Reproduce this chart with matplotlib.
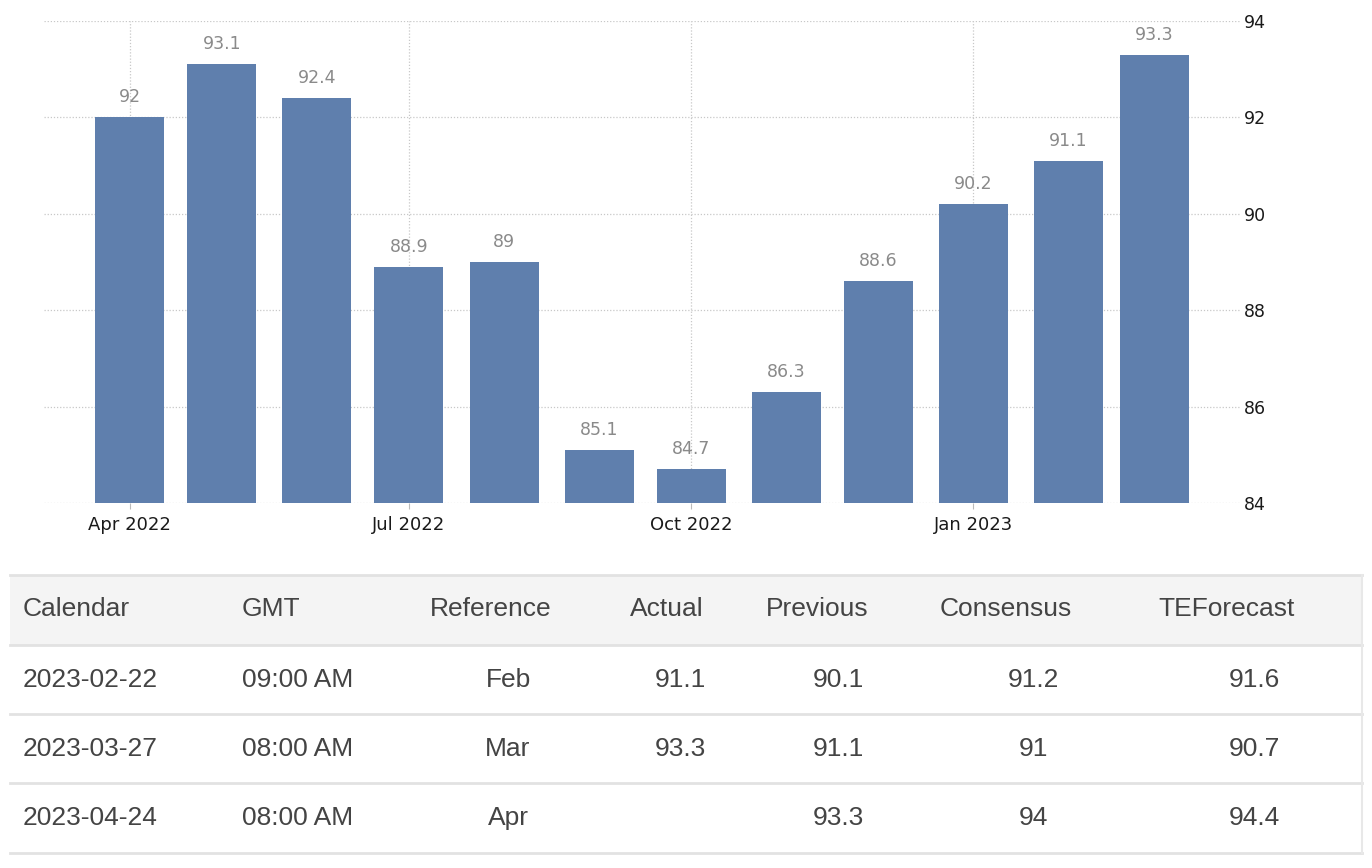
import matplotlib
matplotlib.use("Agg")
import matplotlib.pyplot as plt
import matplotlib.dates as mdates
import numpy as np
import pandas as pd

# ---- chart data -------------------------------------------------------------
months = pd.date_range("2022-04-01", "2023-03-01", freq="MS")
values = [92, 93.1, 92.4, 88.9, 89, 85.1, 84.7, 86.3, 88.6, 90.2, 91.1, 93.3]
tick_dates = pd.to_datetime(["2022-04-01", "2022-07-01", "2022-10-01", "2023-01-01"])
tick_labels = ["Apr 2022", "Jul 2022", "Oct 2022", "Jan 2023"]
y_ticks = [84, 86, 88, 90, 92, 94]

# ---- table data -------------------------------------------------------------
headers = ["Calendar", "GMT", "Reference", "Actual", "Previous", "Consensus", "TEForecast"]
calendar = ["2023-02-22", "2023-03-27", "2023-04-24"]
gmt = ["09:00 AM", "08:00 AM", "08:00 AM"]
reference = ["Feb", "Mar", "Apr"]
actual = ["91.1", "93.3", ""]
previous = ["90.1", "91.1", "93.3"]
consensus = ["91.2", "91", "94"]
teforecast = ["91.6", "90.7", "94.4"]

W, H = 1372, 868
fig = plt.figure(figsize=(W / 100, H / 100), dpi=100)
fig.patch.set_facecolor("white")

# ============================================================================
# Bar chart
# ============================================================================
ax = fig.add_axes([44 / W, 1 - 503 / H, (1240 - 44) / W, (503 - 21) / H])
ax.bar(months, values, width=22.5, color="#5f7fad", zorder=3)

ax.set_ylim(84, 94)
ax.set_xlim(pd.Timestamp("2022-03-04"), pd.Timestamp("2023-03-29"))
ax.set_yticks(y_ticks)
ax.set_xticks(tick_dates)
ax.set_xticklabels(tick_labels)

ax.yaxis.tick_right()
ax.tick_params(axis="y", length=0, pad=3, labelsize=12.5, labelcolor="#1a1a1a")
ax.tick_params(axis="x", length=4, color="#bbbbbb", pad=5, labelsize=13, labelcolor="#1a1a1a")
for lbl in ax.get_yticklabels():
    lbl.set_horizontalalignment("left")

ax.grid(True, axis="both", linestyle=(0, (1, 1.5)), color="#c8c8c8", linewidth=0.9, zorder=0)
for s in ax.spines.values():
    s.set_visible(False)

for d, v in zip(months, values):
    ax.annotate(f"{v:g}", (d, v), xytext=(0, 8), textcoords="offset points",
                ha="center", va="bottom", fontsize=12.5, color="#8a8a8a")

# ============================================================================
# Table below the chart (drawn in pixel coordinates)
# ============================================================================
tax = fig.add_axes([0, 0, 1, 1], zorder=-1)
tax.set_xlim(0, W)
tax.set_ylim(H, 0)
tax.axis("off")

left, right = 10, 1362
row_edges = [575, 645, 714, 783, 853]
tax.add_patch(plt.Rectangle((left, row_edges[0]), right - left, row_edges[1] - row_edges[0],
                            facecolor="#f4f4f4", edgecolor="none"))
for y in row_edges:
    tax.plot([left, right], [y, y], color="#e2e2e2", linewidth=2)
tax.plot([right, right], [row_edges[0], row_edges[-1]], color="#e8e8e8", linewidth=1.5)

tfont = dict(family="Liberation Sans", fontsize=19, color="#444444", va="center")
header_x = [23, 242, 430, 630, 766, 940, 1158]
for x, h in zip(header_x, headers):
    tax.text(x, 609, h, ha="left", **tfont)

row_y = [680, 749, 818]
for i, y in enumerate(row_y):
    tax.text(23, y, calendar[i], ha="left", **tfont)
    tax.text(242, y, gmt[i], ha="left", **tfont)
    tax.text(508, y, reference[i], ha="center", **tfont)
    tax.text(680, y, actual[i], ha="center", **tfont)
    tax.text(838, y, previous[i], ha="center", **tfont)
    tax.text(1033, y, consensus[i], ha="center", **tfont)
    tax.text(1254, y, teforecast[i], ha="center", **tfont)

fig.savefig("out.png", dpi=100)
